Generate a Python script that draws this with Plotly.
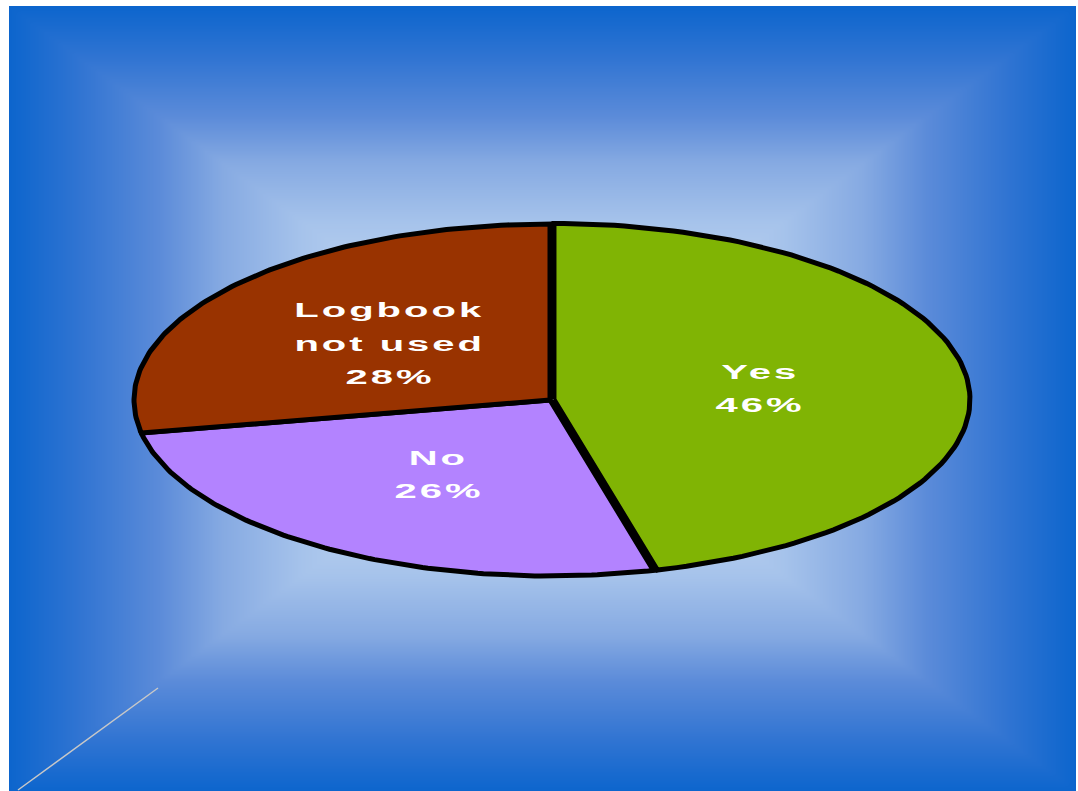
import numpy as np
import plotly.graph_objects as go

# pie data
labels = ["Yes", "No", "Logbook<br>not used"]
values = [46, 26, 28]
colors = ["#80b404", "#b383ff", "#993300"]
explode = [4, 0, 0]

W, H = 1078, 791
L, T, R = 9, 6, 2
cx, cy = 550, 400      # ellipse centre (px)
ax_, by_ = 416, 176    # semi axes (px)

fig = go.Figure()

# rectangular "path" gradient behind the chart
gx = np.linspace(L, W - R, 240)
gy = np.linspace(T, H, 180)
X, Y = np.meshgrid(gx, gy)
mx, my = (L + W - R) / 2, (T + H) / 2
Z = np.maximum(np.abs(X - mx) / ((W - R - L) / 2), np.abs(Y - my) / ((H - T) / 2))
fig.add_trace(go.Heatmap(
    x=gx, y=gy, z=Z, zmin=0, zmax=1, zsmooth="best", showscale=False, hoverinfo="skip",
    colorscale=[[0, "#e4edf9"], [0.45, "#a6c3eb"], [0.6, "#86aae2"], [0.72, "#5b8bd9"],
                [0.87, "#3074d2"], [1, "#0c65cd"]],
))

total = sum(values)
start = 90.0
for lab, v, col, ex in zip(labels, values, colors, explode):
    sweep = 360.0 * v / total
    t = np.radians(np.linspace(start, start - sweep, 120))
    mid = np.radians(start - sweep / 2)
    ox, oy = ex * np.cos(mid), -ex * np.sin(mid)
    xs = np.concatenate([[cx], cx + ax_ * np.cos(t), [cx]]) + ox
    ys = np.concatenate([[cy], cy - by_ * np.sin(t), [cy]]) + oy
    fig.add_trace(go.Scatter(
        x=xs, y=ys, mode="lines", fill="toself", fillcolor=col,
        line=dict(color="black", width=5), hoverinfo="skip", showlegend=False,
    ))
    # label lines, spaced like the original
    lines = lab.split("<br>") + [f"{v}%"]
    n = len(lines)
    for i, txt in enumerate(lines):
        fig.add_annotation(
            x=cx + ox + 0.5 * ax_ * np.cos(mid), y=cy + oy - 0.5 * by_ * np.sin(mid),
            yshift=((n - 1) / 2 - i) * 33.5,
            text=txt, showarrow=False,
            font=dict(family="Liberation Sans", size=20, color="white", weight="bold"),
        )
    start -= sweep

# stray grey line at bottom left
fig.add_shape(type="line", x0=18, y0=790, x1=158, y1=688,
              line=dict(color="#c8c8c8", width=1.5))

fig.update_layout(
    width=W, height=H,
    margin=dict(l=L, r=R, t=T, b=0),
    paper_bgcolor="white", plot_bgcolor="white",
    xaxis=dict(range=[L, W - R], visible=False, fixedrange=True),
    yaxis=dict(range=[H, T], visible=False, fixedrange=True),
    showlegend=False,
)

# no page margin; wide, stretched label lettering like the original
js = """
document.body.style.margin = '0';
document.querySelectorAll('.annotation-text').forEach(function (t) {
  t.style.letterSpacing = '1.5px';
  t.style.transformBox = 'fill-box';
  t.style.transformOrigin = 'center';
  t.style.transform = 'scaleX(2.0)';
});
"""

fig.write_html("out.html", post_script=js, config={"displayModeBar": False})
